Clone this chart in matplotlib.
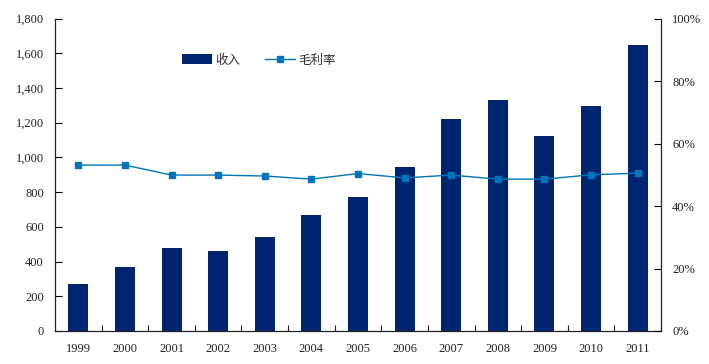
import matplotlib
matplotlib.use("Agg")
import matplotlib.pyplot as plt
from matplotlib.ticker import FuncFormatter, MultipleLocator

plt.rcParams['font.family'] = ['Liberation Serif', 'Noto Sans CJK SC', 'DejaVu Sans']

years = ['1999', '2000', '2001', '2002', '2003', '2004', '2005', '2006',
         '2007', '2008', '2009', '2010', '2011']
revenue = [272, 370, 480, 463, 543, 670, 773, 945, 1220, 1330, 1123, 1295, 1648]
margin = [0.531, 0.531, 0.499, 0.499, 0.496, 0.486, 0.504, 0.490, 0.499, 0.486, 0.486, 0.500, 0.505]

bar_color = '#002570'
line_color = '#0075BB'
text_color = '#222222'

fig = plt.figure(figsize=(7.09, 3.64), dpi=100)
ax = fig.add_axes([0.0776, 0.0907, 0.8547, 0.8583])
x = list(range(len(years)))
ax.bar(x, revenue, width=0.43, color=bar_color, label='收入', zorder=2)
ax.set_xlim(-0.5, len(years) - 0.5)
ax.set_ylim(0, 1800)
ax.yaxis.set_major_locator(MultipleLocator(200))
ax.yaxis.set_major_formatter(FuncFormatter(lambda v, p: f'{int(v):,}'))
ax.set_xticks([i + 0.5 for i in x[:-1]], minor=False)
ax.set_xticklabels([])
ax.set_xticks(x, minor=True)
ax.set_xticklabels(years, minor=True)
ax.tick_params(axis='x', which='major', direction='in', length=4, width=0.8, color=text_color)
ax.tick_params(axis='x', which='minor', length=0, pad=9, labelsize=9, labelcolor=text_color)
ax.tick_params(axis='y', direction='in', length=5, width=0.8, labelsize=9, labelcolor=text_color, pad=8)
for s in ['top', 'right']:
    ax.spines[s].set_visible(False)
for s in ['left', 'bottom']:
    ax.spines[s].set_color(text_color)
    ax.spines[s].set_linewidth(0.9)

ax2 = ax.twinx()
ax2.plot(x, margin, color=line_color, lw=1.0, marker='s', markersize=4.5,
         markerfacecolor=line_color, markeredgecolor=line_color, label='毛利率', zorder=3)
ax2.set_ylim(0, 1.0)
ax2.yaxis.set_major_locator(MultipleLocator(0.2))
ax2.yaxis.set_major_formatter(FuncFormatter(lambda v, p: f'{int(round(v * 100))}%'))
ax2.tick_params(axis='y', direction='in', length=5, width=0.8, labelsize=9, labelcolor=text_color, pad=8)
for s in ['top', 'left', 'bottom']:
    ax2.spines[s].set_visible(False)
ax2.spines['right'].set_color(text_color)
ax2.spines['right'].set_linewidth(0.9)

h1, l1 = ax.get_legend_handles_labels()
h2, l2 = ax2.get_legend_handles_labels()
leg = ax2.legend(h1 + h2, l1 + l2, ncol=2, frameon=False, loc='center left',
                 bbox_to_anchor=(0.195, 0.867), fontsize=9, handlelength=2.4,
                 handleheight=0.8, columnspacing=2.0, handletextpad=0.25,
                 borderpad=0.2)
for t in leg.get_texts():
    t.set_color('#333333')
    t.set_family(['Noto Sans CJK SC', 'DejaVu Sans'])

fig.savefig('out.png', dpi=100)
